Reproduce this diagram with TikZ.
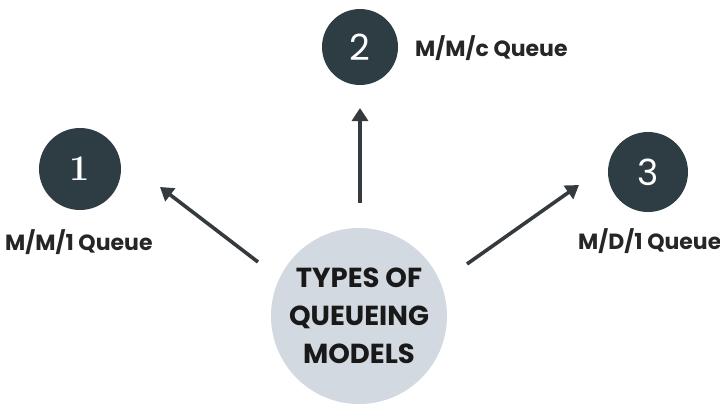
\documentclass[tikz,border=0pt]{standalone}
\usepackage{fontspec}
\setmainfont{Poppins}
\usetikzlibrary{arrows.meta}
\definecolor{darkc}{HTML}{2E3D44}
\definecolor{lightc}{HTML}{D3D9E0}
\definecolor{arrowc}{HTML}{343A3E}
\tikzset{
  numc/.style={circle,fill=darkc,text=white,minimum size=78pt,inner sep=0pt,font=\fontsize{36}{36}\selectfont},
  mainc/.style={circle,fill=lightc,minimum size=176pt,inner sep=0pt,align=center,text=black!90,font=\bfseries\fontsize{27.5}{38}\selectfont},
  lbl/.style={font=\bfseries\fontsize{22}{24}\selectfont,text=black!85,inner sep=0pt},
  arr/.style={draw=arrowc,line width=3.6pt,-{Triangle[length=13pt,width=16pt]}}
}
\begin{document}
\begin{tikzpicture}[x=1pt,y=-1pt]
\useasboundingbox (0,0) rectangle (720,416);
\node[mainc] (c) at (359,316) {TYPES OF\\QUEUEING\\MODELS};
\node[numc,minimum size=82pt] (n1) at (80,169) {\fontspec{Latin Modern Roman}\bfseries 1};
\node[numc,minimum size=76pt] (n2) at (360,47) {2};
\node[numc,minimum size=80pt] (n3) at (648,172) {3};
\node[lbl,anchor=west] (l1) at (5,242) {M/M/1 Queue};
\node[lbl,anchor=west] (l2) at (415,48) {M/M/c Queue};
\node[lbl,anchor=west] (l3) at (578,241) {M/D/1 Queue};
\coordinate (s1) at (258,262); \coordinate (e1) at (160,187);
\coordinate (s2) at (360,203); \coordinate (e2) at (360,108);
\coordinate (s3) at (467,264); \coordinate (e3) at (579,185);
\draw[arr] (s1) -- (e1);
\draw[arr] (s2) -- (e2);
\draw[arr] (s3) -- (e3);
\end{tikzpicture}
\end{document}
